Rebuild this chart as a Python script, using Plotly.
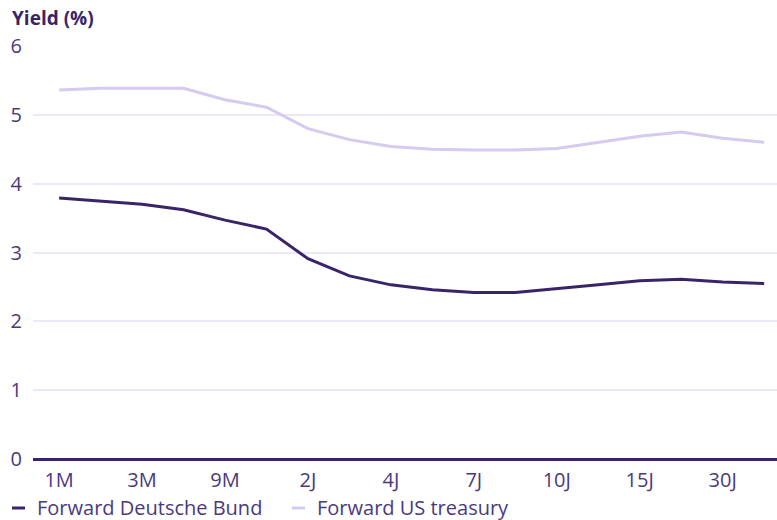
import plotly.graph_objects as go

# Maturities along the forward curve
maturities = ["1M", "2M", "3M", "6M", "9M", "1J", "2J", "3J", "4J", "5J",
              "7J", "8J", "10J", "12J", "15J", "20J", "30J", "50J"]

# Forward yields in percent
bund = [3.79, 3.74, 3.70, 3.62, 3.47, 3.34, 2.91, 2.66, 2.53, 2.46,
        2.42, 2.42, 2.47, 2.53, 2.59, 2.61, 2.57, 2.55]
treasury = [5.36, 5.385, 5.385, 5.385, 5.22, 5.11, 4.80, 4.64, 4.54, 4.50,
            4.49, 4.49, 4.51, 4.60, 4.69, 4.75, 4.66, 4.60]

series_names = ["Forward Deutsche Bund", "Forward US treasury"]
shown_ticks = maturities[::2]

DARK = "#3a2468"
LIGHT = "#d5caf0"
TEXT = "#4a3a7c"
GRID = "#ece8fb"
FONT = "Open Sans"
SIZE = 20

fig = go.Figure()
fig.add_trace(go.Scatter(x=maturities, y=treasury, mode="lines",
                         name=series_names[1],
                         line=dict(color=LIGHT, width=3)))
fig.add_trace(go.Scatter(x=maturities, y=bund, mode="lines",
                         name=series_names[0],
                         line=dict(color=DARK, width=3)))

fig.update_layout(
    width=777, height=520,
    margin=dict(l=33, r=0, t=46, b=61),
    paper_bgcolor="white", plot_bgcolor="white",
    showlegend=False,
    font=dict(family=FONT, size=SIZE, color=TEXT),
    xaxis=dict(
        type="category",
        categoryorder="array", categoryarray=maturities,
        range=[-0.63, 17.31],
        tickmode="array", tickvals=shown_ticks, ticktext=shown_ticks,
        showgrid=False, zeroline=False, showline=False,
        ticks="", ticklabelstandoff=7,
        tickfont=dict(family=FONT, size=SIZE, color=TEXT),
    ),
    yaxis=dict(
        range=[0, 6], tickvals=[0, 1, 2, 3, 4, 5, 6],
        showgrid=True, gridcolor=GRID, gridwidth=2,
        zeroline=True, zerolinecolor=DARK, zerolinewidth=3,
        showline=False, ticks="", ticklabelstandoff=10,
        tickfont=dict(family=FONT, size=SIZE, color=TEXT),
    ),
)

# Axis title above the y ticks
fig.add_annotation(text="<b>Yield (%)</b>", xref="paper", yref="paper",
                   x=-23 / 744, y=1.0 + 28 / 413, xanchor="left", yanchor="middle",
                   showarrow=False,
                   font=dict(family=FONT, size=19, color=DARK))

# Legend row under the axis
legend_y = -49 / 413
legend_items = [(series_names[0], DARK, 12), (series_names[1], LIGHT, 292)]
for name, color, px in legend_items:
    x0 = (px - 33) / 744
    x1 = (px + 13 - 33) / 744
    fig.add_shape(type="line", xref="paper", yref="paper",
                  x0=x0, x1=x1, y0=legend_y, y1=legend_y,
                  line=dict(color=color, width=3))
    fig.add_annotation(text=name, xref="paper", yref="paper",
                       x=(px + 23 - 33) / 744, y=legend_y,
                       xanchor="left", yanchor="middle", showarrow=False,
                       font=dict(family=FONT, size=SIZE, color=TEXT))

fig.write_html("out.html")
